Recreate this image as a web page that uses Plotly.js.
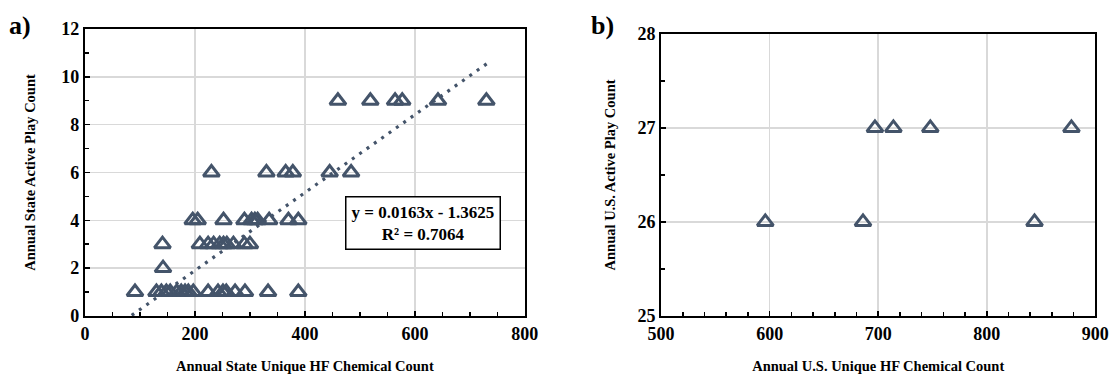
<!DOCTYPE html>
<html>
<head>
<meta charset="utf-8">
<script src="https://cdn.plot.ly/plotly-3.0.1.min.js"></script>
<style>html,body{margin:0;padding:0;background:#fff;}#chart{width:1112px;height:377px;}</style>
</head>
<body>
<div id="chart"></div>
<script>
// Panel a: state-level data
const stateChemX = [91,130,139,148,155,167,175,182,188,197,224,242,251,257,273,291,333,388,
                    142,
                    141,209,224,234,245,252,258,270,290,300,
                    196,205,252,290,303,309,314,335,370,388,
                    230,330,365,378,445,484,
                    460,519,564,577,642,730];
const statePlayY = [1,1,1,1,1,1,1,1,1,1,1,1,1,1,1,1,1,1,
                    2,
                    3,3,3,3,3,3,3,3,3,3,
                    4,4,4,4,4,4,4,4,4,4,
                    6,6,6,6,6,6,
                    9,9,9,9,9,9];
const trendSlope = 0.0163;
const trendIntercept = -1.3625;
const trendR2 = 0.7064;
const trendXRange = [85, 735];

// Panel b: U.S.-level data
const usChemX = [596, 686, 844, 697, 714, 748, 878];
const usPlayY = [26, 26, 26, 27, 27, 27, 27];

// Tick labels
const xTicksA = [0, 200, 400, 600, 800];
const yTicksA = [0, 2, 4, 6, 8, 10, 12];
const xTicksB = [500, 600, 700, 800, 900];
const yTicksB = [25, 26, 27, 28];

const markColor = '#44546A';
const fontFam = '"Liberation Serif", "Times New Roman", serif';

const marker = {symbol:'triangle-up-open', size:14, color:markColor, line:{color:markColor, width:3}};

const traces = [
  {x: stateChemX, y: statePlayY, type:'scatter', mode:'markers', marker: marker, xaxis:'x', yaxis:'y', hoverinfo:'skip'},
  {x: trendXRange, y: trendXRange.map(v => trendSlope*v + trendIntercept), type:'scatter', mode:'lines',
   line:{color:markColor, width:3.2, dash:'3px,6px'}, xaxis:'x', yaxis:'y', hoverinfo:'skip'},
  {x: usChemX, y: usPlayY, type:'scatter', mode:'markers', marker: marker, xaxis:'x2', yaxis:'y2', hoverinfo:'skip'}
];

const tickFont = {family: fontFam, size: 18, color:'#000', weight:700};
const titleFont = {family: fontFam, size: 14.5, color:'#000', weight:700};
const b = s => '<b>' + s + '</b>';

function axisBase(ticks, extra){
  return Object.assign({
    showline:true, linecolor:'#000', linewidth:2, mirror:true,
    showgrid:true, gridcolor:'#d9d9d9', gridwidth:1.5,
    zeroline:false, ticks:'inside', ticklen:5, tickwidth:1.5, tickcolor:'#000',
    tickmode:'array', tickvals: ticks, ticktext: ticks.map(v => b(v)),
    tickfont: tickFont, fixedrange:true
  }, extra);
}

const layout = {
  width:1112, height:377,
  margin:{l:0, r:0, t:0, b:0},
  paper_bgcolor:'#fff', plot_bgcolor:'#fff',
  showlegend:false,
  font:{family: fontFam, color:'#000'},
  xaxis: axisBase(xTicksA, {domain:[0.0764, 0.472], range:[0,800], anchor:'y',
    minor:{ticks:'inside', dtick:50, ticklen:4, tickwidth:1.5, tickcolor:'#000', showgrid:false},
    title:{text:b('Annual State Unique HF Chemical Count'), font:titleFont, standoff:18}}),
  yaxis: axisBase(yTicksA, {domain:[0.162, 0.923], range:[0,12], anchor:'x',
    minor:{ticks:'inside', dtick:1, ticklen:4, tickwidth:1.5, tickcolor:'#000', showgrid:false},
    title:{text:b('Annual State Active Play Count'), font:titleFont, standoff:22}}),
  xaxis2: axisBase(xTicksB, {domain:[0.5945, 0.985], range:[500,900], anchor:'y2',
    minor:{ticks:'inside', dtick:20, ticklen:4, tickwidth:1.5, tickcolor:'#000', showgrid:false},
    title:{text:b('Annual U.S. Unique HF Chemical Count'), font:titleFont, standoff:18}}),
  yaxis2: axisBase(yTicksB, {domain:[0.162, 0.910], range:[25,28], anchor:'x2',
    minor:{ticks:'inside', dtick:0.5, ticklen:4, tickwidth:1.5, tickcolor:'#000', showgrid:false},
    title:{text:b('Annual U.S. Active Play Count'), font:titleFont, standoff:18}}),
  annotations: [
    {xref:'x', yref:'y', x:615, y:3.9, showarrow:false,
     text:b('y = 0.0163x - 1.3625<br>R² = ' + trendR2.toFixed(4)),
     font:{family:fontFam, size:17, color:'#000', weight:700},
     bordercolor:'#000', borderwidth:1.5, borderpad:5, bgcolor:'#fff', align:'center'},
    {xref:'paper', yref:'paper', x:0.006, y:0.975, xanchor:'left', yanchor:'top', showarrow:false,
     text:b('a)'), font:{family:fontFam, size:26, color:'#000', weight:700}},
    {xref:'paper', yref:'paper', x:0.530, y:0.975, xanchor:'left', yanchor:'top', showarrow:false,
     text:b('b)'), font:{family:fontFam, size:26, color:'#000', weight:700}}
  ]
};

Plotly.newPlot('chart', traces, layout, {staticPlot:true, displayModeBar:false});
</script>
</body>
</html>
